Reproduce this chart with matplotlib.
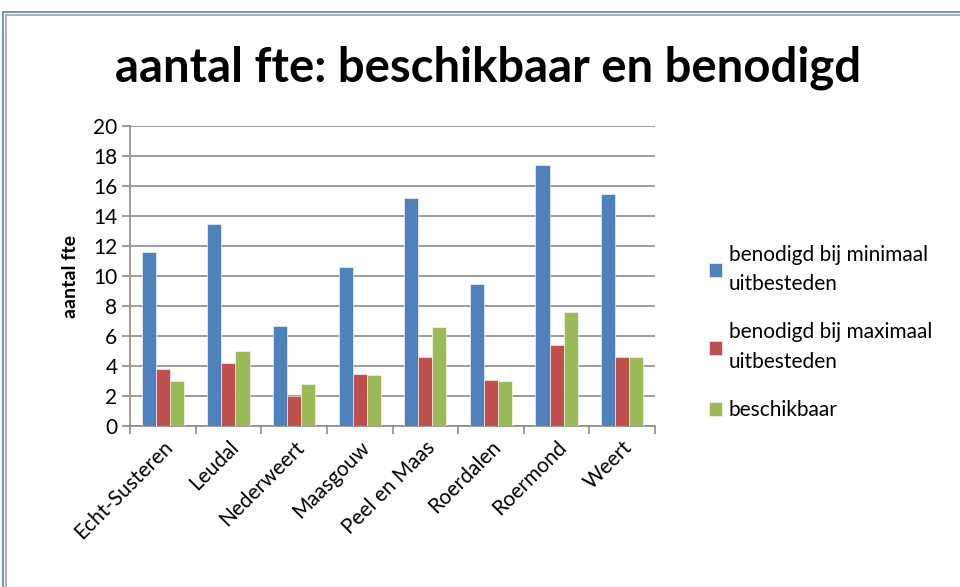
import numpy as np
import matplotlib
matplotlib.use('Agg')
import matplotlib.pyplot as plt
from matplotlib.patches import Rectangle

plt.rcParams['font.family'] = ['Lato', 'DejaVu Sans']

gemeenten = ['Echt-Susteren', 'Leudal', 'Nederweert', 'Maasgouw',
             'Peel en Maas', 'Roerdalen', 'Roermond', 'Weert']
min_uitbesteden = [11.6, 13.5, 6.7, 10.6, 15.2, 9.5, 17.4, 15.5]
max_uitbesteden = [3.8, 4.2, 2.0, 3.5, 4.6, 3.1, 5.4, 4.6]
beschikbaar = [3.0, 5.0, 2.8, 3.4, 6.6, 3.0, 7.6, 4.6]

series = [
    ('benodigd bij minimaal\nuitbesteden', min_uitbesteden, '#4F81BD'),
    ('benodigd bij maximaal\nuitbesteden', max_uitbesteden, '#C0504D'),
    ('beschikbaar', beschikbaar, '#9BBB59'),
]

fig = plt.figure(figsize=(9.6, 5.87), dpi=100)
ax = fig.add_axes([130 / 960, 1 - 426 / 587, 525 / 960, 300 / 587])

x = np.arange(len(gemeenten))
w = 0.215
for i, (naam, vals, kleur) in enumerate(series):
    ax.bar(x + (i - 1) * w, vals, w, color=kleur, edgecolor='white',
           linewidth=0.4, label=naam, zorder=3)

ax.set_xlim(-0.5, len(gemeenten) - 0.5)
ax.set_ylim(0, 20)
ax.set_yticks(range(0, 21, 2))
ax.yaxis.grid(True, color='#8c8c8c', linewidth=1.2, zorder=0)
ax.tick_params(axis='y', length=6, color='#8c8c8c', width=1.2, labelsize=15, pad=3)

# category boundary ticks on x axis
ax.set_xticks(np.arange(-0.5, len(gemeenten) + 0.5, 1), minor=False)
ax.set_xticklabels([])
ax.set_xticks(x, minor=True)
ax.set_xticklabels(gemeenten, minor=True, rotation=45, ha='right',
                   rotation_mode='anchor', fontsize=15)
ax.tick_params(axis='x', which='major', length=6, color='#8c8c8c', width=1.2)
ax.tick_params(axis='x', which='minor', length=0, pad=8)

for s in ['top', 'right']:
    ax.spines[s].set_visible(False)
for s in ['left', 'bottom']:
    ax.spines[s].set_color('#8c8c8c')
    ax.spines[s].set_linewidth(1.2)

ax.set_ylabel('aantal fte', fontsize=14, fontweight='bold', labelpad=10)

fig.text(488 / 960, 1 - 68 / 587, 'aantal fte: beschikbaar en benodigd',
         ha='center', va='center', fontsize=34, fontweight='bold')

leg = ax.legend(loc='upper left', bbox_to_anchor=(690 / 960, 1 - 226 / 587),
                bbox_transform=fig.transFigure, frameon=False, fontsize=15,
                handlelength=0.65, handleheight=0.65, handletextpad=0.3,
                labelspacing=1.35)
for t in leg.get_texts():
    t.set_linespacing(1.6)

# chart frame
fig.patches.append(Rectangle((3 / 960, -0.02), 1.1, 1 - 12 / 587 + 0.02,
                             transform=fig.transFigure, fill=False,
                             edgecolor='#4F81BD', linewidth=1.2))
fig.patches.append(Rectangle((6 / 960, -0.02), 1.1, 1 - 15 / 587 + 0.02,
                             transform=fig.transFigure, fill=False,
                             edgecolor='#b0b0b0', linewidth=1.5))

fig.savefig('out.png', dpi=100)
